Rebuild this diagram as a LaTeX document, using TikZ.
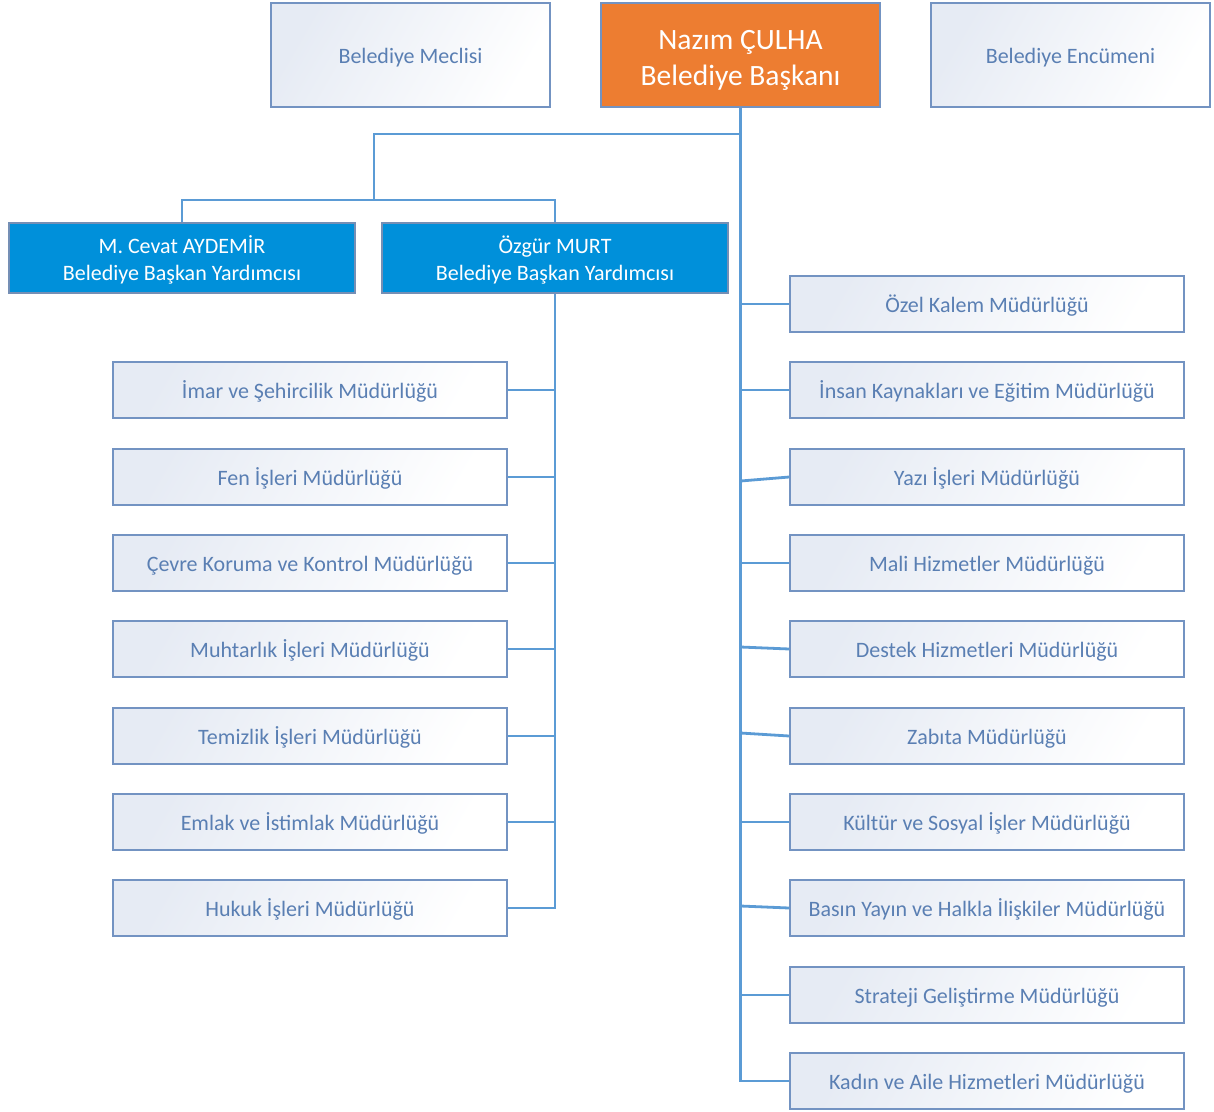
\documentclass[tikz,border=0pt]{standalone}
\usepackage{fontspec}
\setmainfont{Carlito}
\definecolor{linec}{HTML}{5B9BD5}
\definecolor{boxdraw}{HTML}{7393C2}
\definecolor{boxtext}{HTML}{5A7FB3}
\definecolor{boxtop}{HTML}{E6EBF4}
\definecolor{orangef}{HTML}{ED7D31}
\definecolor{bluef}{HTML}{0090DA}
\begin{document}
\begin{tikzpicture}[x=1pt,y=-1pt,
  wbox/.style={draw=boxdraw, line width=1.5pt, left color=boxtop, right color=white, shading angle=60,
    minimum width=394pt, minimum height=56pt, inner sep=0pt, text=boxtext, font=\fontsize{22}{26}\selectfont,
    text height=17pt, text depth=1pt},
  topbox/.style={wbox, minimum width=279pt, minimum height=104pt},
  vbox/.style={draw=boxdraw!80!gray, line width=1.5pt, fill=bluef, minimum width=346pt, minimum height=70pt, inner sep=0pt},
  vtext/.style={text=white, align=center, inner sep=0pt, font=\fontsize{22}{27}\selectfont},
  conn/.style={draw=linec, line width=2.8pt}]
\useasboundingbox (0,0) rectangle (1214,1111);
% top row
\node[topbox] (mec) at (410.5,55) {Belediye Meclisi};
\node[topbox] (enc) at (1070.5,55) {Belediye Encümeni};
\node[draw=boxdraw, line width=1.5pt, fill=orangef, minimum width=279pt, minimum height=104pt, inner sep=0pt] (pres) at (740.5,55) {};
\node[text=white, align=center, inner sep=0pt, font=\fontsize{29.5}{36}\selectfont] (prest) at (740.5,60) {Nazım ÇULHA\\Belediye Başkanı};
% deputies
\node[vbox] (cev) at (182,258) {};
\node[vtext] (cevt) at (182,260) {M. Cevat AYDEMİR\\Belediye Başkan Yardımcısı};
\node[vbox] (oz) at (555,258) {};
\node[vtext] (ozt) at (555,260) {Özgür MURT\\Belediye Başkan Yardımcısı};
% left column
\node[wbox] (l1) at (310,390) {İmar ve Şehircilik Müdürlüğü};
\node[wbox] (l2) at (310,477) {Fen İşleri Müdürlüğü};
\node[wbox] (l3) at (310,563) {Çevre Koruma ve Kontrol Müdürlüğü};
\node[wbox] (l4) at (310,649) {Muhtarlık İşleri Müdürlüğü};
\node[wbox] (l5) at (310,736) {Temizlik İşleri Müdürlüğü};
\node[wbox] (l6) at (310,822) {Emlak ve İstimlak Müdürlüğü};
\node[wbox] (l7) at (310,908) {Hukuk İşleri Müdürlüğü};
% right column
\node[wbox] (r1) at (987,304) {Özel Kalem Müdürlüğü};
\node[wbox] (r2) at (987,390) {İnsan Kaynakları ve Eğitim Müdürlüğü};
\node[wbox] (r3) at (987,477) {Yazı İşleri Müdürlüğü};
\node[wbox] (r4) at (987,563) {Mali Hizmetler Müdürlüğü};
\node[wbox] (r5) at (987,649) {Destek Hizmetleri Müdürlüğü};
\node[wbox] (r6) at (987,736) {Zabıta Müdürlüğü};
\node[wbox] (r7) at (987,822) {Kültür ve Sosyal İşler Müdürlüğü};
\node[wbox] (r8) at (987,908) {Basın Yayın ve Halkla İlişkiler Müdürlüğü};
\node[wbox] (r9) at (987,995) {Strateji Geliştirme Müdürlüğü};
\node[wbox] (r10) at (987,1081) {Kadın ve Aile Hizmetleri Müdürlüğü};
% connectors
\coordinate (j1) at (740,134);
\coordinate (j2) at (374,200);
\draw[conn] (pres.south) |- (r10.west);
\draw[conn] (j1) -| (j2);
\draw[conn] (cev.north) |- (j2) -| (oz.north);
\draw[conn] (oz.south) |- (l7.east);
\foreach \i in {1,...,6} {\draw[conn] (l\i.east) -- (oz.south |- l\i.east);}
\foreach \i in {1,2,4,7,9} {\draw[conn] (pres.south |- r\i.west) -- (r\i.west);}
\draw[conn] ([yshift=-4pt]pres.south |- r3.west) -- (r3.west);
\draw[conn] ([yshift=2pt]pres.south |- r5.west) -- (r5.west);
\draw[conn] ([yshift=3pt]pres.south |- r6.west) -- (r6.west);
\draw[conn] ([yshift=2pt]pres.south |- r8.west) -- (r8.west);
\end{tikzpicture}
\end{document}
